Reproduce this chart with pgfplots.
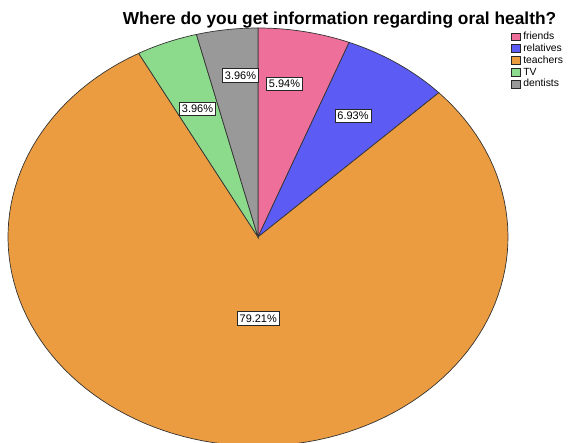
\documentclass[border=0pt]{standalone}
\usepackage{pgfplots}
\pgfplotsset{compat=1.18}
\usepackage{pgfplotstable}
\usepackage{fontspec}
\setmainfont{Liberation Sans}
\definecolor{cFriends}{HTML}{EE6F9A}
\definecolor{cRelatives}{HTML}{5C5CF4}
\definecolor{cTeachers}{HTML}{EB9C40}
\definecolor{cTV}{HTML}{8CDB8C}
\definecolor{cDentists}{HTML}{999999}
\pgfplotstableread{
label pct color lx ly
friends 5.94 cFriends 0.106 0.733
relatives 6.93 cRelatives 0.380 0.579
teachers 79.21 cTeachers 0.001 -0.389
TV 3.96 cTV -0.242 0.612
dentists 3.96 cDentists -0.070 0.773
}\piedata
\tikzset{pielabel/.style={draw=black!85, fill=white, line width=0.7pt, inner sep=2.4bp, text height=8bp, text depth=0.6bp, font=\fontsize{11}{12}\selectfont}}
\begin{document}
\begin{tikzpicture}
\path[use as bounding box, clip] (-258bp,-206bp) rectangle (313bp,237bp);
\begin{axis}[at={(0,0)}, anchor=center, scale only axis, width=500bp, height=418bp,
  xmin=-1, xmax=1, ymin=-1, ymax=1, hide axis, clip=false,
  legend style={at={(axis cs:1.012,0.986)}, anchor=north west, draw=none, fill=none,
    inner sep=0pt, row sep=0pt, column sep=1.5bp, font=\fontsize{10.4}{11}\selectfont,
    nodes={inner sep=1bp, text height=7.6bp, text depth=2.2bp}},
  legend cell align=left,
  legend image code/.code={\draw[#1, draw=black!85, line width=0.6pt] (0bp,-3.6bp) rectangle (9bp,4.2bp);}]
\def\cum{0}
\pgfplotsforeachungrouped \i in {0,...,4}{
  \pgfplotstablegetelem{\i}{pct}\of\piedata \let\p\pgfplotsretval
  \pgfplotstablegetelem{\i}{color}\of\piedata \let\c\pgfplotsretval
  \pgfplotstablegetelem{\i}{label}\of\piedata \let\lab\pgfplotsretval
  \pgfmathsetmacro\aend{90-3.6*\cum}
  \pgfmathsetmacro\cum{\cum+\p}
  \pgfmathsetmacro\astart{90-3.6*\cum}
  \edef\doslice{\noexpand\addplot[fill=\c, draw=black!80, line width=0.7pt, domain=\astart:\aend, samples=120] ({cos(x)},{sin(x)}) -- (axis cs:0,0) -- cycle;
  \noexpand\addlegendentry{\lab}}
  \doslice
}
\pgfplotsforeachungrouped \i in {0,...,4}{
  \pgfplotstablegetelem{\i}{pct}\of\piedata \let\p\pgfplotsretval
  \pgfplotstablegetelem{\i}{lx}\of\piedata \let\lx\pgfplotsretval
  \pgfplotstablegetelem{\i}{ly}\of\piedata \let\ly\pgfplotsretval
  \edef\dolabel{\noexpand\node[pielabel] at (axis cs:\lx,\ly) {\p\noexpand\%};}
  \dolabel
}
\end{axis}
\node[font=\bfseries\fontsize{17.4}{20}\selectfont, anchor=base] at (81.5bp,212bp) {Where do you get information regarding oral health?};
\end{tikzpicture}
\end{document}
